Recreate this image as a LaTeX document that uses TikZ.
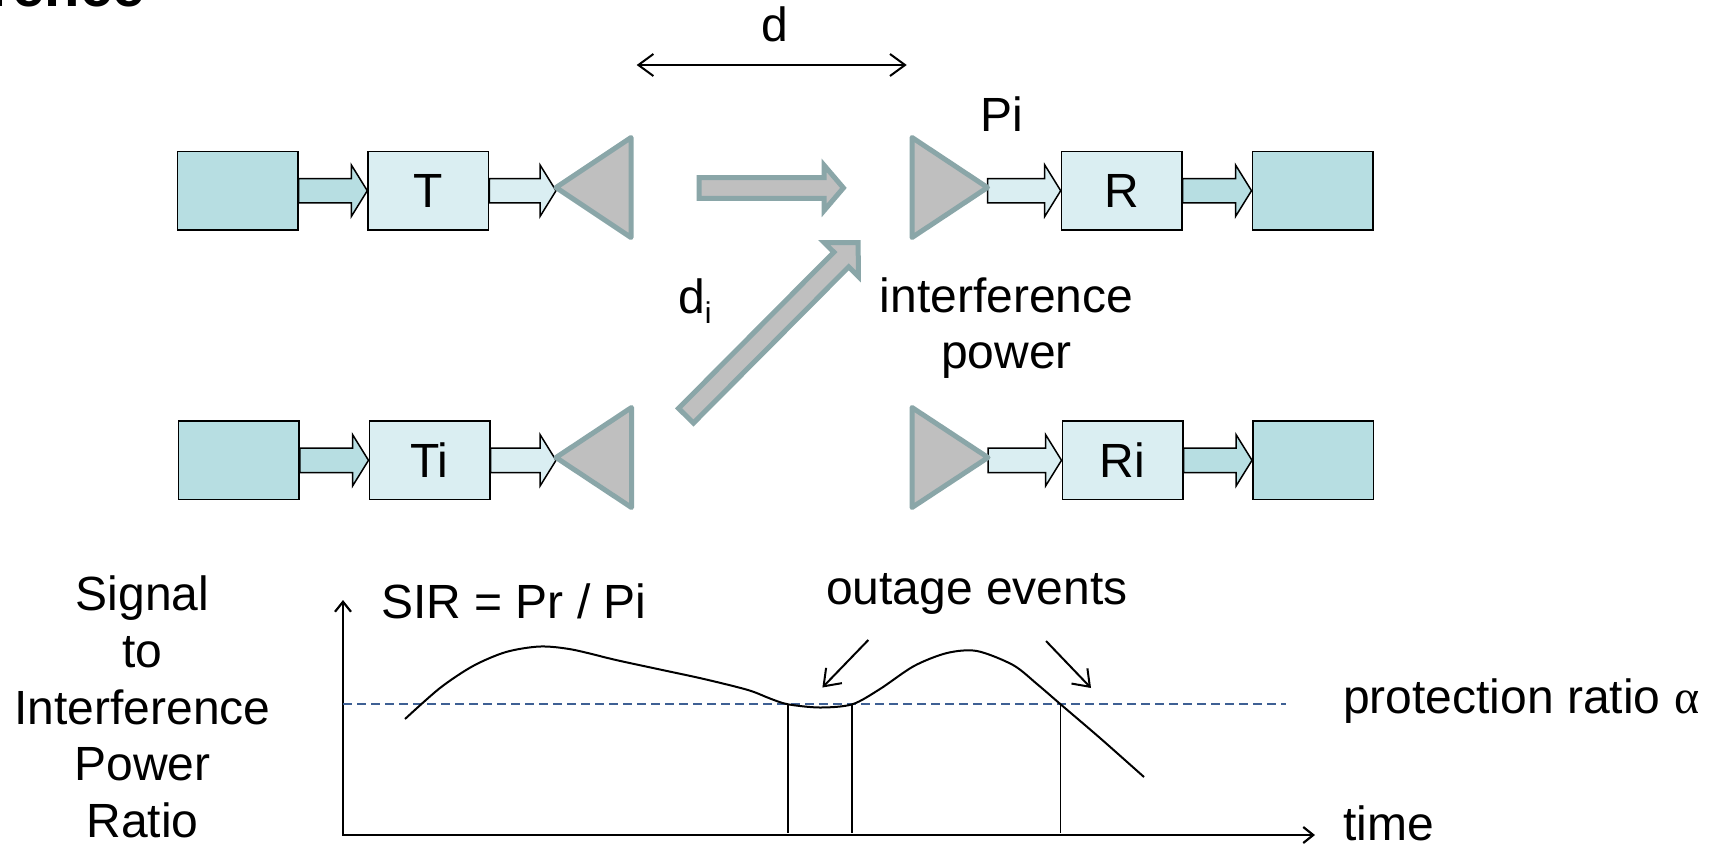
\documentclass[tikz,border=0pt]{standalone}
\usepackage{fontspec}
\setmainfont{Liberation Sans}
\newfontfamily\greekfont{Liberation Serif}
\usetikzlibrary{calc,arrows.meta}

\definecolor{boxdark}{RGB}{183,222,226}
\definecolor{boxlight}{RGB}{218,238,242}
\definecolor{antfill}{RGB}{191,191,191}
\definecolor{antedge}{RGB}{138,166,168}
\definecolor{threshold}{RGB}{62,96,148}

% block arrow: style, from, to, shaft half-width, head half-width, head length
\newcommand\fatarrow[6]{%
  \coordinate (fa-hb) at ($(#3)!#6!(#2)$);
  \path[#1] ($(#2)!#4!90:(#3)$) -- ($(fa-hb)!#4!90:(#3)$) -- ($(fa-hb)!#5!90:(#3)$) -- (#3)
    -- ($(fa-hb)!#5!-90:(#3)$) -- ($(fa-hb)!#4!-90:(#3)$) -- ($(#2)!#4!-90:(#3)$) -- cycle;}

\tikzset{
  txt/.style={font=\fontsize{48}{56.6}\selectfont, inner sep=0pt},
  unitbox/.style={draw=black, line width=1.5pt, minimum width=120.5pt,
    minimum height=78.5pt, inner sep=0pt, txt},
  darkbox/.style={unitbox, fill=boxdark},
  lightbox/.style={unitbox, fill=boxlight},
  chaindark/.style={draw=black, line width=1.5pt, fill=boxdark},
  chainlight/.style={draw=black, line width=1.5pt, fill=boxlight},
  antenna/.style={draw=antedge, fill=antfill, line width=5pt, line join=round},
  radio/.style={draw=antedge, fill=antfill, line width=5pt},
  span/.style={line width=2pt, {Straight Barb[length=15pt,width=22pt]}-{Straight Barb[length=15pt,width=22pt]}},
  axis/.style={line width=2.2pt},
  pointer/.style={line width=2pt, -{Straight Barb[length=15pt,width=22pt]}},
  sircurve/.style={line width=2pt},
  level/.style={draw=threshold, line width=1.8pt, dash pattern=on 9pt off 5pt},
  drop/.style={line width=1.6pt}
}

\begin{document}
\begin{tikzpicture}[x=1pt, y=-1pt]
\fill[white] (0,0) rectangle (1726,847);
\useasboundingbox (0,0) rectangle (1726,847);

\node[font=\bfseries\fontsize{58}{60}\selectfont, anchor=base east, inner sep=0pt] (title) at (145,6) {rence};

% ---------- wanted link ----------
\node[darkbox]  (srcA)  at (237.5,190.7) {};
\node[lightbox] (T)     at (428.3,190.7) {T};
\coordinate (txA) at (556,187.5);
\coordinate (rxA) at (987.5,187.5);
\node[lightbox] (R)     at (1121.7,190.7) {R};
\node[darkbox]  (sinkA) at (1312.5,190.7) {};

\fatarrow{chaindark}{srcA.east}{T.west}{12.2pt}{25.8pt}{16pt}
\fatarrow{chainlight}{T.east}{T.east -| txA}{12.2pt}{25.8pt}{16pt}
\fatarrow{chainlight}{rxA |- R.west}{R.west}{12.2pt}{25.8pt}{16pt}
\fatarrow{chaindark}{R.east}{sinkA.west}{12.2pt}{25.8pt}{16pt}

\draw[antenna] (txA) -- ++(75,-50) -- ++(0,100) -- cycle;
\draw[antenna] (rxA) -- ++(-75.5,-50) -- ++(0,100) -- cycle;

% ---------- interfering link ----------
\node[darkbox]  (srcB)  at (238.8,460.3) {};
\node[lightbox] (Ti)    at (429.5,460.3) {Ti};
\coordinate (txB) at (556,457.5);
\coordinate (rxB) at (988,457.5);
\node[lightbox] (Ri)    at (1122.5,460.3) {Ri};
\node[darkbox]  (sinkB) at (1313,460.3) {};

\fatarrow{chaindark}{srcB.east}{Ti.west}{12.2pt}{25.8pt}{16pt}
\fatarrow{chainlight}{Ti.east}{Ti.east -| txB}{12.2pt}{25.8pt}{16pt}
\fatarrow{chainlight}{rxB |- Ri.west}{Ri.west}{12.2pt}{25.8pt}{16pt}
\fatarrow{chaindark}{Ri.east}{sinkB.west}{12.2pt}{25.8pt}{16pt}

\draw[antenna] (txB) -- ++(75.5,-50) -- ++(0,100) -- cycle;
\draw[antenna] (rxB) -- ++(-76,-50) -- ++(0,100) -- cycle;

% ---------- radio paths ----------
\coordinate (sigS) at (699.2,187.9);
\coordinate (sigE) at (843.4,187.9);
\fatarrow{radio}{sigS}{sigE}{10.35pt}{22.5pt}{19.2pt}
\coordinate (intS) at (686,415.7);
\coordinate (intE) at (858.2,242.5);
\fatarrow{radio}{intS}{intE}{10.45pt}{24pt}{24pt}

\coordinate (dL) at (636.7,65);
\coordinate (dR) at (906.7,65);
\draw[span] (dL) -- (dR);
\node[txt, anchor=base] (dlab) at (775,41) {d};
\node[txt, anchor=base west] (pilab) at (980,131.7) {Pi};
\node[txt, anchor=base west] (dilab) at (678,313.3) {d\raisebox{-10pt}{\fontsize{30}{30}\selectfont i}};
\node[txt, align=center] (intlab) at (1006.5,328) {interference\\power};

% ---------- SIR over time ----------
\node[txt, align=center] (ylab) at (142.5,707) {Signal\\to\\Interference\\Power\\Ratio};

\coordinate (origin) at (343,835);
\coordinate (ytop) at (343,600);
\coordinate (xend) at (1315,835);
\draw[axis, {Straight Barb[length=10pt,width=16pt]}-{Straight Barb[length=10pt,width=16pt]}]
  (ytop) -- (origin) -- (xend);

\coordinate (thrL) at (343,704.3);
\coordinate (thrR) at (1286,704.3);
\draw[level] (thrL) -- (thrR);

\draw[drop] (788,704.3) -- (788,833);
\draw[drop] (852.2,704.3) -- (852.2,833);
\draw[drop] (1060.6,704.3) -- (1060.6,833);

\draw[sircurve] plot[smooth, tension=0.5] coordinates {
  (405,719) (440,688) (473,666) (506,652) (540,646.5) (572,649.5) (616,660)
  (660,669.5) (704,679) (748,690) (770,698.5) (788,704.3) (820,707.5) (852.2,704.3)
  (880,689) (914,666) (947,653) (977,651) (1013,665) (1037,684) (1060.6,704.3)
  (1100,738) (1144,777)};

\node[txt, anchor=base west] (sir) at (381,618.7) {SIR = Pr / Pi};
\node[txt, anchor=base west] (outage) at (826,604) {outage events};
\coordinate (outA1) at (868.3,640);
\coordinate (outA2) at (822.4,687.5);
\coordinate (outB1) at (1046,641);
\coordinate (outB2) at (1091,688);
\draw[pointer] (outA1) -- (outA2);
\draw[pointer] (outB1) -- (outB2);

\node[txt, anchor=base west] (prot) at (1343,713.3) {protection ratio {\greekfont α}};
\node[txt, anchor=base west] (tlab) at (1343,840) {time};
\end{tikzpicture}
\end{document}
